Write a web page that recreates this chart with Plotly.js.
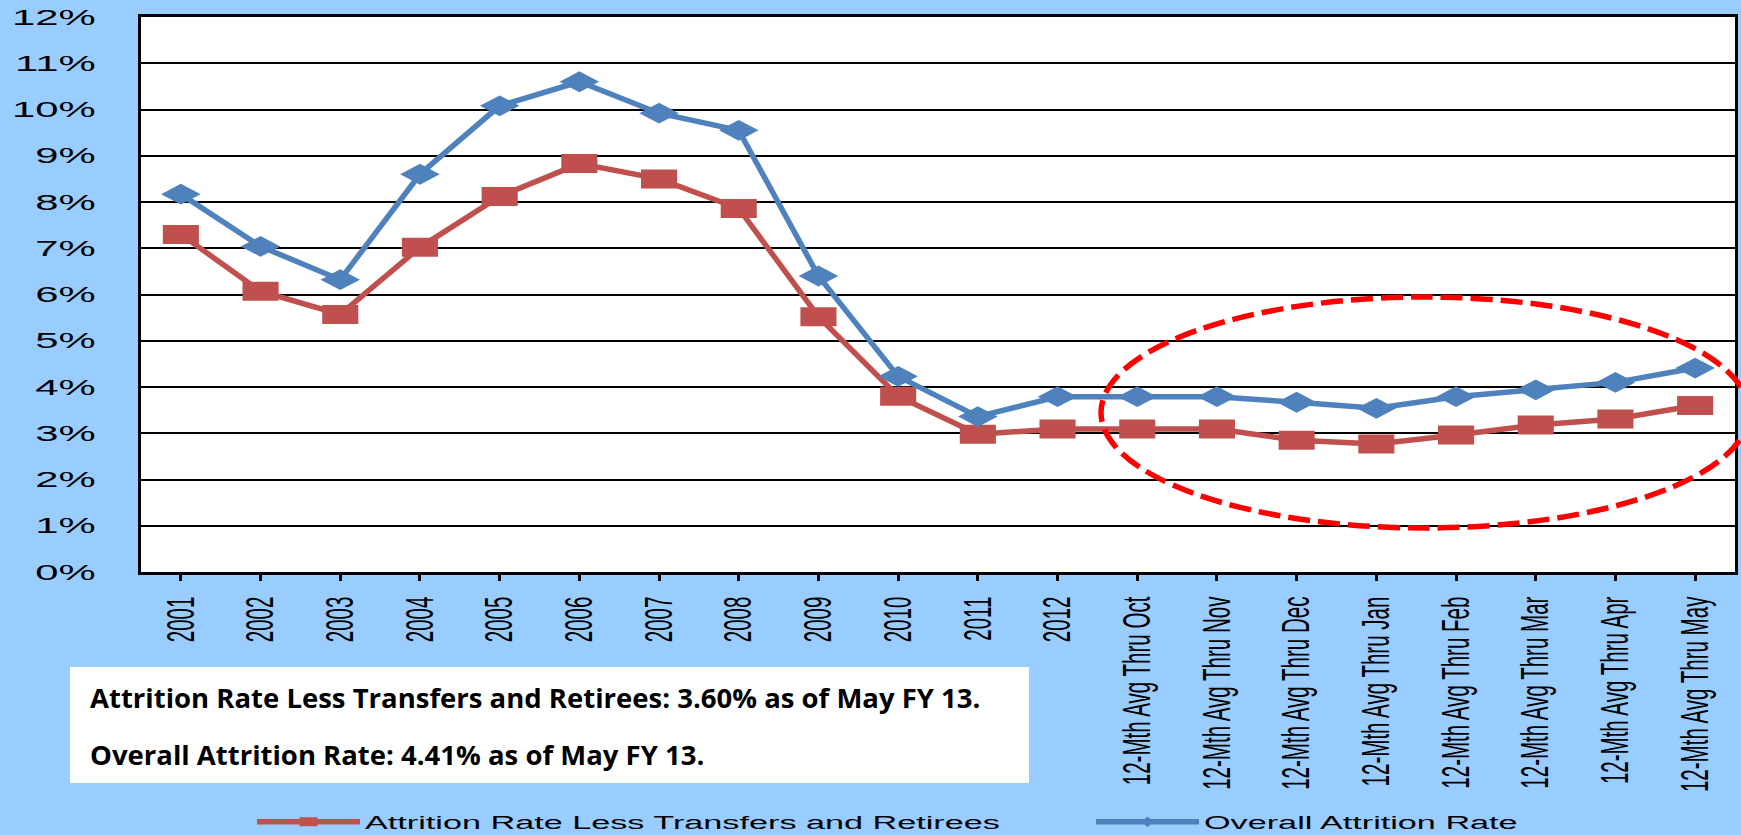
<!DOCTYPE html>
<html>
<head>
<meta charset="utf-8">
<script src="https://cdn.plot.ly/plotly-3.0.1.min.js"></script>
<style>
html,body{margin:0;padding:0;background:#99CCFF;overflow:hidden;}
#chart{width:1741px;height:835px;}
</style>
</head>
<body>
<div id="chart"></div>
<script>
// ---- data ----
const categories = ['2001','2002','2003','2004','2005','2006','2007','2008','2009','2010','2011','2012',
  '12-Mth Avg Thru Oct','12-Mth Avg Thru Nov','12-Mth Avg Thru Dec','12-Mth Avg Thru Jan',
  '12-Mth Avg Thru Feb','12-Mth Avg Thru Mar','12-Mth Avg Thru Apr','12-Mth Avg Thru May'];
const lessTransfersRetirees = [7.30, 6.07, 5.57, 7.02, 8.12, 8.83, 8.50, 7.86, 5.52, 3.80, 2.98, 3.09,
  3.09, 3.09, 2.85, 2.77, 2.96, 3.18, 3.31, 3.60];
const overallRate = [8.17, 7.04, 6.32, 8.60, 10.08, 10.60, 9.92, 9.55, 6.40, 4.23, 3.36, 3.79,
  3.79, 3.79, 3.67, 3.54, 3.79, 3.94, 4.10, 4.41];
const seriesNames = ['Attrition Rate Less Transfers and Retirees', 'Overall Attrition Rate'];
const noteLines = ['Attrition Rate Less Transfers and Retirees: 3.60% as of May FY 13.',
  'Overall Attrition Rate: 4.41% as of May FY 13.'];

// ---- geometry helpers (plot area in pixels) ----
const W = 1741, H = 835;
const PL = 141, PR = 1735, PT = 17, PB = 572;
const px = x => (x - PL) / (PR - PL);
const py = y => (PB - y) / (PB - PT);
const STRETCH = 1.9;

const RED = '#C0504D', BLUE = '#4F81BD';

const traces = [
  {type:'scatter', mode:'lines+markers', name: seriesNames[0], x: categories,
   y: lessTransfersRetirees.map(v => v / 100), legend:'legend',
   line:{color:RED, width:5.5}, marker:{symbol:'square', size:19, color:RED},
   cliponaxis:false, hoverinfo:'skip'},
  {type:'scatter', mode:'lines+markers', name: seriesNames[1], x: categories,
   y: overallRate.map(v => v / 100), legend:'legend2',
   line:{color:BLUE, width:5.5}, marker:{symbol:'diamond', size:16, color:BLUE},
   cliponaxis:false, hoverinfo:'skip'}
];

const legendBase = {orientation:'h', xanchor:'left', y:py(822), yanchor:'middle',
  bgcolor:'rgba(0,0,0,0)', borderwidth:0, itemwidth:103, entrywidthmode:'pixels',
  font:{family:'Liberation Sans, Arial, sans-serif', size:18, color:'#000'}};

const layout = {
  width: W, height: H,
  paper_bgcolor:'#99CCFF', plot_bgcolor:'#FFFFFF',
  margin:{l:PL, r:W-PR, t:PT, b:H-PB, pad:0, autoexpand:false},
  font:{family:'Liberation Sans, Arial, sans-serif', color:'#000'},
  xaxis:{type:'category', categoryorder:'array', categoryarray:categories, range:[-0.5, 19.5],
    tickangle:-90, ticks:'outside', ticklen:6, tickwidth:3, tickcolor:'#000',
    showline:true, linewidth:3, linecolor:'#000', mirror:true, showgrid:false, zeroline:false,
    tickfont:{family:'Liberation Sans, Arial, sans-serif', size:39, color:'#000'},
    automargin:false, fixedrange:true},
  yaxis:{range:[0, 0.12], tick0:0, dtick:0.01, tickformat:'.0%',
    showgrid:true, gridcolor:'#000', gridwidth:2, zeroline:false,
    showline:true, linewidth:3, linecolor:'#000', mirror:true, ticks:'',
    ticklabelstandoff:38,
    tickfont:{family:'Liberation Sans, Arial, sans-serif', size:22, color:'#000'},
    automargin:false, fixedrange:true},
  showlegend:true,
  legend: Object.assign({}, legendBase, {x:px(252), entrywidth:780}),
  legend2: Object.assign({}, legendBase, {x:px(1091), entrywidth:470}),
  shapes:[
    {type:'rect', xref:'paper', yref:'paper', x0:px(70), x1:px(1029), y0:py(783), y1:py(667),
     fillcolor:'#FFFFFF', line:{width:0}, layer:'above'},
    {type:'circle', xref:'paper', yref:'paper', x0:px(1101), x1:px(1749), y0:py(528), y1:py(297),
     line:{color:'#FF0000', width:5.5, dash:'22px,8px'}, layer:'above'}
  ],
  annotations:[
    {xref:'paper', yref:'paper', x:px(88), y:py(697), xanchor:'left', yanchor:'middle',
     text:'<b>' + noteLines[0] + '</b>', showarrow:false, align:'left',
     font:{family:'Open Sans, sans-serif', size:27.5, color:'#000'}},
    {xref:'paper', yref:'paper', x:px(88), y:py(754), xanchor:'left', yanchor:'middle',
     text:'<b>' + noteLines[1] + '</b>', showarrow:false, align:'left',
     font:{family:'Open Sans, sans-serif', size:27.5, color:'#000'}}
  ]
};

function stretchTexts(gd) {
  const apply = (sel, f) => gd.querySelectorAll(sel).forEach(t => {
    t.removeAttribute('textLength');
    t.removeAttribute('lengthAdjust');
    const len = t.getComputedTextLength();
    if (len > 0) {
      t.setAttribute('textLength', (len * f).toFixed(2));
      t.setAttribute('lengthAdjust', 'spacingAndGlyphs');
    }
  });
  apply('.ytick text', STRETCH);
  apply('.xtick text', 1 / STRETCH);
  apply('.infolayer g.legend text, .infolayer g.legend2 text', STRETCH);
  const addScale = (sel, sx, sy) => gd.querySelectorAll(sel).forEach(p => {
    const tr = p.getAttribute('transform') || '';
    if (tr.indexOf('scale') < 0) p.setAttribute('transform', tr + ' scale(' + sx + ',' + sy + ')');
  });
  addScale('.scatterlayer .points path.point', STRETCH, 1);
  addScale('g.legend path.scatterpts', 1.12, 0.56);
  addScale('g.legend2 path.scatterpts', 0.6, 0.5);
}

const gd = document.getElementById('chart');
Plotly.newPlot(gd, traces, layout, {displayModeBar:false, staticPlot:true}).then(() => {
  stretchTexts(gd);
  setTimeout(() => stretchTexts(gd), 0);
  gd.on('plotly_afterplot', () => stretchTexts(gd));
});
</script>
</body>
</html>
